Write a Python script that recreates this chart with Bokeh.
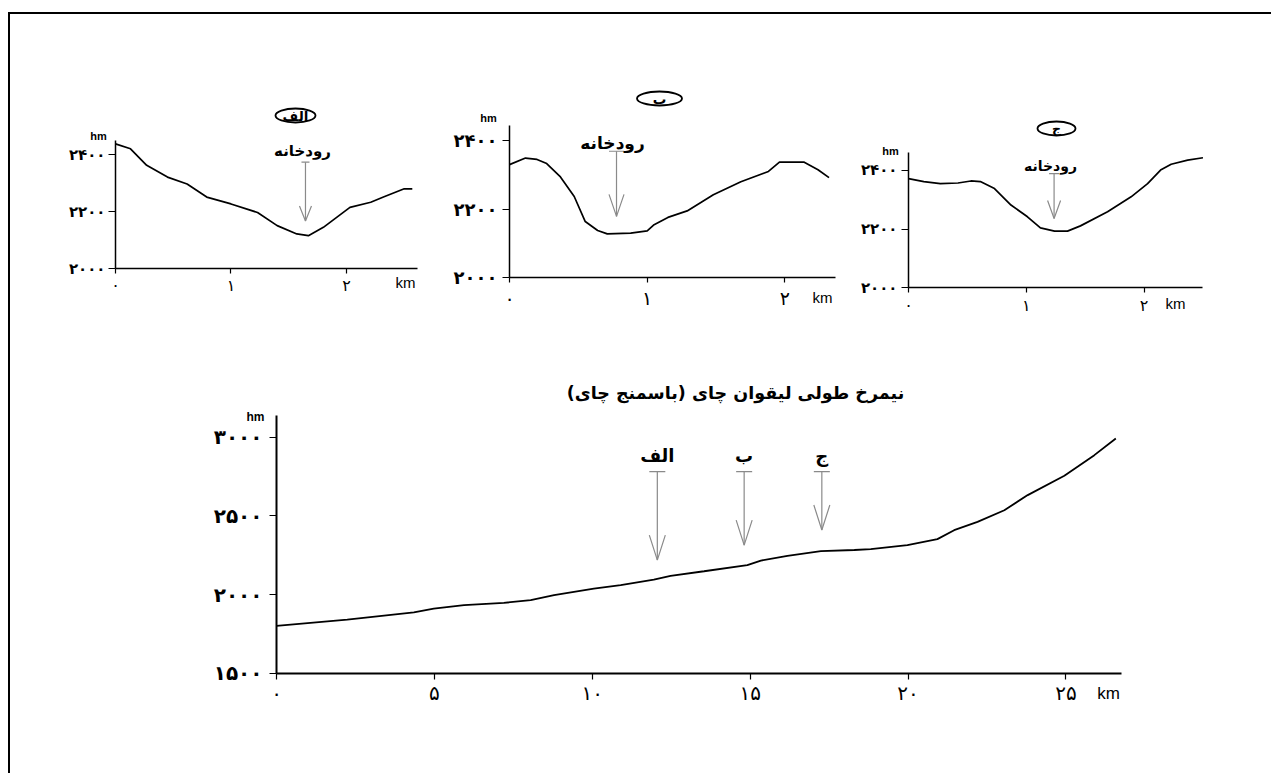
from bokeh.plotting import figure
from bokeh.models import Label, FixedTicker, Range1d, Arrow, TeeHead
from bokeh.layouts import column, row
from bokeh.embed import file_html
from bokeh.resources import INLINE

# ---------------- data ----------------
# longitudinal profile of Leyghvan chai
main_km = [0, 2.24, 4.35, 4.98, 5.94, 7.2, 8.05, 8.79, 10.05, 10.9, 11.95, 12.48,
           13.54, 14.91, 15.34, 16.18, 17.24, 18.3, 18.82, 19.98, 20.93, 21.46,
           22.2, 23.05, 23.79, 24.95, 25.9, 26.58]
main_hm = [1801, 1841, 1886, 1911, 1933, 1947, 1964, 1996, 2038, 2060, 2095, 2119,
           2148, 2187, 2216, 2246, 2276, 2283, 2289, 2314, 2352, 2409,
           2462, 2536, 2632, 2755, 2886, 2992]
main_x_ticks = [0, 5, 10, 15, 20, 25]
main_x_labels = ["۰", "۵", "۱۰", "۱۵", "۲۰", "۲۵"]
main_y_ticks = [1500, 2000, 2500, 3000]
main_y_labels = ["۱۵۰۰", "۲۰۰۰", "۲۵۰۰", "۳۰۰۰"]
main_title = "نیمرخ طولی لیقوان چای (باسمنج چای)\u200f"

section_names = ["الف", "ب", "ج"]
section_km = [12.06, 14.81, 17.27]
section_tip_hm = [2219, 2314, 2410]
section_top_hm = [2781, 2781, 2781]

# cross profiles
a_km = [0, 0.13, 0.27, 0.45, 0.62, 0.79, 1.0, 1.23, 1.40, 1.57, 1.67, 1.80, 2.03, 2.21, 2.32, 2.50, 2.57]
a_hm = [2437, 2420, 2362, 2321, 2297, 2251, 2227, 2197, 2151, 2122, 2116, 2145, 2215, 2233, 2251, 2280, 2280]
b_km = [0, 0.116, 0.2, 0.27, 0.37, 0.47, 0.55, 0.64, 0.71, 0.88, 1.0, 1.05, 1.15, 1.29, 1.48, 1.68, 1.88, 1.96, 2.14, 2.24, 2.32]
b_hm = [2330, 2349, 2345, 2333, 2294, 2237, 2164, 2138, 2128, 2130, 2137, 2155, 2176, 2195, 2242, 2280, 2310, 2337, 2337, 2315, 2292]
c_km = [0, 0.13, 0.27, 0.42, 0.53, 0.61, 0.73, 0.87, 1.01, 1.12, 1.24, 1.35, 1.46, 1.69, 1.89, 2.03, 2.14, 2.23, 2.37, 2.50]
c_hm = [2372, 2362, 2355, 2357, 2364, 2362, 2338, 2282, 2242, 2204, 2193, 2193, 2211, 2259, 2310, 2355, 2401, 2421, 2435, 2443]
small_x_ticks = [0, 1, 2]
small_x_labels = ["۰", "۱", "۲"]
small_y_ticks = [2000, 2200, 2400]
small_y_labels = ["۲۰۰۰", "۲۲۰۰", "۲۴۰۰"]
river_label = "رودخانه"
river_km = [1.645, 0.777, 1.236]
river_top_hm = [2373, 2369, 2389]
river_tip_hm = [2167, 2179, 2236]

FA = "DejaVu Sans"
LAT = "Liberation Sans"
GRAY = "#8a8a8a"


def build(g, box, xdom, ydom, ylab_size, xlab_size, ystand, xstand, ytick=7, xtick=5, axw=1.5):
    """g: canvas in page px; box: (left, right, top, bottom) page px of the axes."""
    l, r, t, b = box
    ppx = (r - l) / (xdom[1] - xdom[0])
    ppy = (b - t) / (ydom[1] - ydom[0])
    xr = (xdom[0] - (l - g["cl"]) / ppx, xdom[1] + (g["cl"] + g["w"] - r) / ppx)
    yr = (ydom[0] - (g["ct"] + g["h"] - b) / ppy, ydom[1] + (t - g["ct"]) / ppy)
    p = figure(width=g["w"], height=g["h"], x_range=Range1d(*xr), y_range=Range1d(*yr),
               output_backend="svg", toolbar_location=None,
               min_border_left=0, min_border_right=0, min_border_top=0, min_border_bottom=0)
    p.frame_align = False
    p.outline_line_color = None
    p.grid.visible = False
    p.background_fill_color = "white"
    p.border_fill_color = "white"
    p.xaxis.fixed_location = ydom[0]
    p.xaxis.bounds = xdom
    p.yaxis.fixed_location = xdom[0]
    p.yaxis.bounds = ydom
    for ax in (p.xaxis[0], p.yaxis[0]):
        ax.axis_line_color = "black"
        ax.axis_line_width = axw
        ax.major_tick_line_color = "black"
        ax.major_tick_line_width = 1.2
        ax.major_tick_in = 0
        ax.minor_tick_line_color = None
        ax.major_label_text_font = FA
        ax.major_label_text_color = "black"
    p.yaxis.major_tick_out = ytick
    p.xaxis.major_tick_out = xtick
    p.yaxis.major_label_text_font_size = ylab_size
    p.yaxis.major_label_text_font_style = "bold"
    p.xaxis.major_label_text_font_size = xlab_size
    p.yaxis.major_label_standoff = ystand
    p.xaxis.major_label_standoff = xstand
    return p, ppx, ppy


def lab(p, g, px, py, text, **kw):
    p.add_layout(Label(x=px - g["cl"], y=(g["ct"] + g["h"]) - py, x_units="screen", y_units="screen",
                       text=text, text_align="center", text_baseline="middle",
                       text_color="black", **kw))


def river_arrow(p, ppx, ppy, x, top, tip, tee, hl, hw, color=GRAY):
    p.add_layout(Arrow(x_start=x, y_start=top, x_end=x, y_end=tip,
                       start=TeeHead(size=tee, line_color=color, line_width=1.2),
                       end=None, line_color=color, line_width=1.2))
    dx = hw / ppx
    dy = hl / ppy
    p.multi_line(xs=[[x - dx, x, x + dx]], ys=[[tip + dy, tip, tip + dy]], line_color=color, line_width=1.2)


# ---------- geometry (page pixels) ----------
GA = dict(cl=10, ct=14, w=430, h=304)
GB = dict(cl=440, ct=14, w=410, h=304)
GC = dict(cl=850, ct=14, w=405, h=304)
GM = dict(cl=10, ct=318, w=1261, h=455)

smalls = [
    (GA, (115, 417, 140, 268.3), (0, 2.615), (2000, 2449), a_km, a_hm, "15px", "16px", 3, 2,
     (295, 115), (302, 150), (98, 135), (405, 282), 8, 15, 6, "13.5px", "15px", 40),
    (GB, (509, 835, 125, 277.3), (0, 2.367), (2000, 2444), b_km, b_hm, "18px", "19px", 5, 4,
     (659, 98), (612, 142), (488, 117), (822, 297), 15, 22, 7.5, "13.5px", "17px", 45),
    (GC, (908, 1202, 152, 287.3), (0, 2.496), (2000, 2461), c_km, c_hm, "15px", "16px", 4, 3,
     (1056, 128), (1050, 165), (890, 150), (1175, 303), 10, 18, 6.5, "12.5px", "14px", 38),
]

figs = []
for i, (g, box, xd, yd, xs, ys, yls, xls, yst, xst, tpos, rpos, hmpos, kmpos, tee, hl, hw, tsize, rsize, ew) in enumerate(smalls):
    p, ppx, ppy = build(g, box, xd, yd, yls, xls, yst, xst)
    p.xaxis.ticker = FixedTicker(ticks=small_x_ticks)
    p.xaxis.major_label_overrides = dict(zip(small_x_ticks, small_x_labels))
    p.yaxis.ticker = FixedTicker(ticks=small_y_ticks)
    p.yaxis.major_label_overrides = dict(zip(small_y_ticks, small_y_labels))
    p.line(xs, ys, line_color="black", line_width=1.7)
    river_arrow(p, ppx, ppy, river_km[i], river_top_hm[i], river_tip_hm[i], tee, hl, hw)
    # ellipse-like frame for the section name
    p.ellipse(x=[xd[0] + (tpos[0] - box[0]) / ppx], y=[yd[1] + (box[2] - tpos[1]) / ppy],
              width=ew / ppx, height=14 / ppy, fill_color=None, line_color="black", line_width=1.8)
    lab(p, g, tpos[0], tpos[1], section_names[i], text_font=FA, text_font_style="bold",
        text_font_size=tsize)
    lab(p, g, rpos[0], rpos[1], river_label, text_font=FA, text_font_style="bold", text_font_size=rsize)
    lab(p, g, hmpos[0], hmpos[1], "hm", text_font=LAT, text_font_style="bold", text_font_size="11px")
    lab(p, g, kmpos[0], kmpos[1], "km", text_font=LAT, text_font_size="15px")
    figs.append(p)

# ---------- main longitudinal profile ----------
pm, mppx, mppy = build(GM, (276, 1121, 415, 672.7), (0, 26.76), (1500, 3138),
                       "20px", "20px", 7, 2, ytick=7, xtick=6, axw=2)
pm.xaxis.ticker = FixedTicker(ticks=main_x_ticks)
pm.xaxis.major_label_overrides = dict(zip(main_x_ticks, main_x_labels))
pm.yaxis.ticker = FixedTicker(ticks=main_y_ticks)
pm.yaxis.major_label_overrides = dict(zip(main_y_ticks, main_y_labels))
pm.line(main_km, main_hm, line_color="black", line_width=1.8)
for i in range(3):
    river_arrow(pm, mppx, mppy, section_km[i], section_top_hm[i], section_tip_hm[i], 16, 25, 8)
    pm.add_layout(Label(x=section_km[i], y=section_top_hm[i], y_offset=16, text=section_names[i],
                        text_font=FA, text_font_style="bold", text_font_size="18px",
                        text_color="black", text_align="center", text_baseline="middle"))
lab(pm, GM, 735, 392, main_title, text_font=FA, text_font_style="bold", text_font_size="17.5px")
lab(pm, GM, 255, 416, "hm", text_font=LAT, text_font_style="bold", text_font_size="12px")
lab(pm, GM, 1108, 693, "km", text_font=LAT, text_font_size="17px")

layout = column(row(*figs), pm,
                styles={"border-top": "2px solid black", "border-left": "2px solid black",
                        "border-right": "none", "border-bottom": "none",
                        "margin-top": "12px", "margin-left": "8px"})

open("out.html", "w").write(file_html(layout, INLINE))
